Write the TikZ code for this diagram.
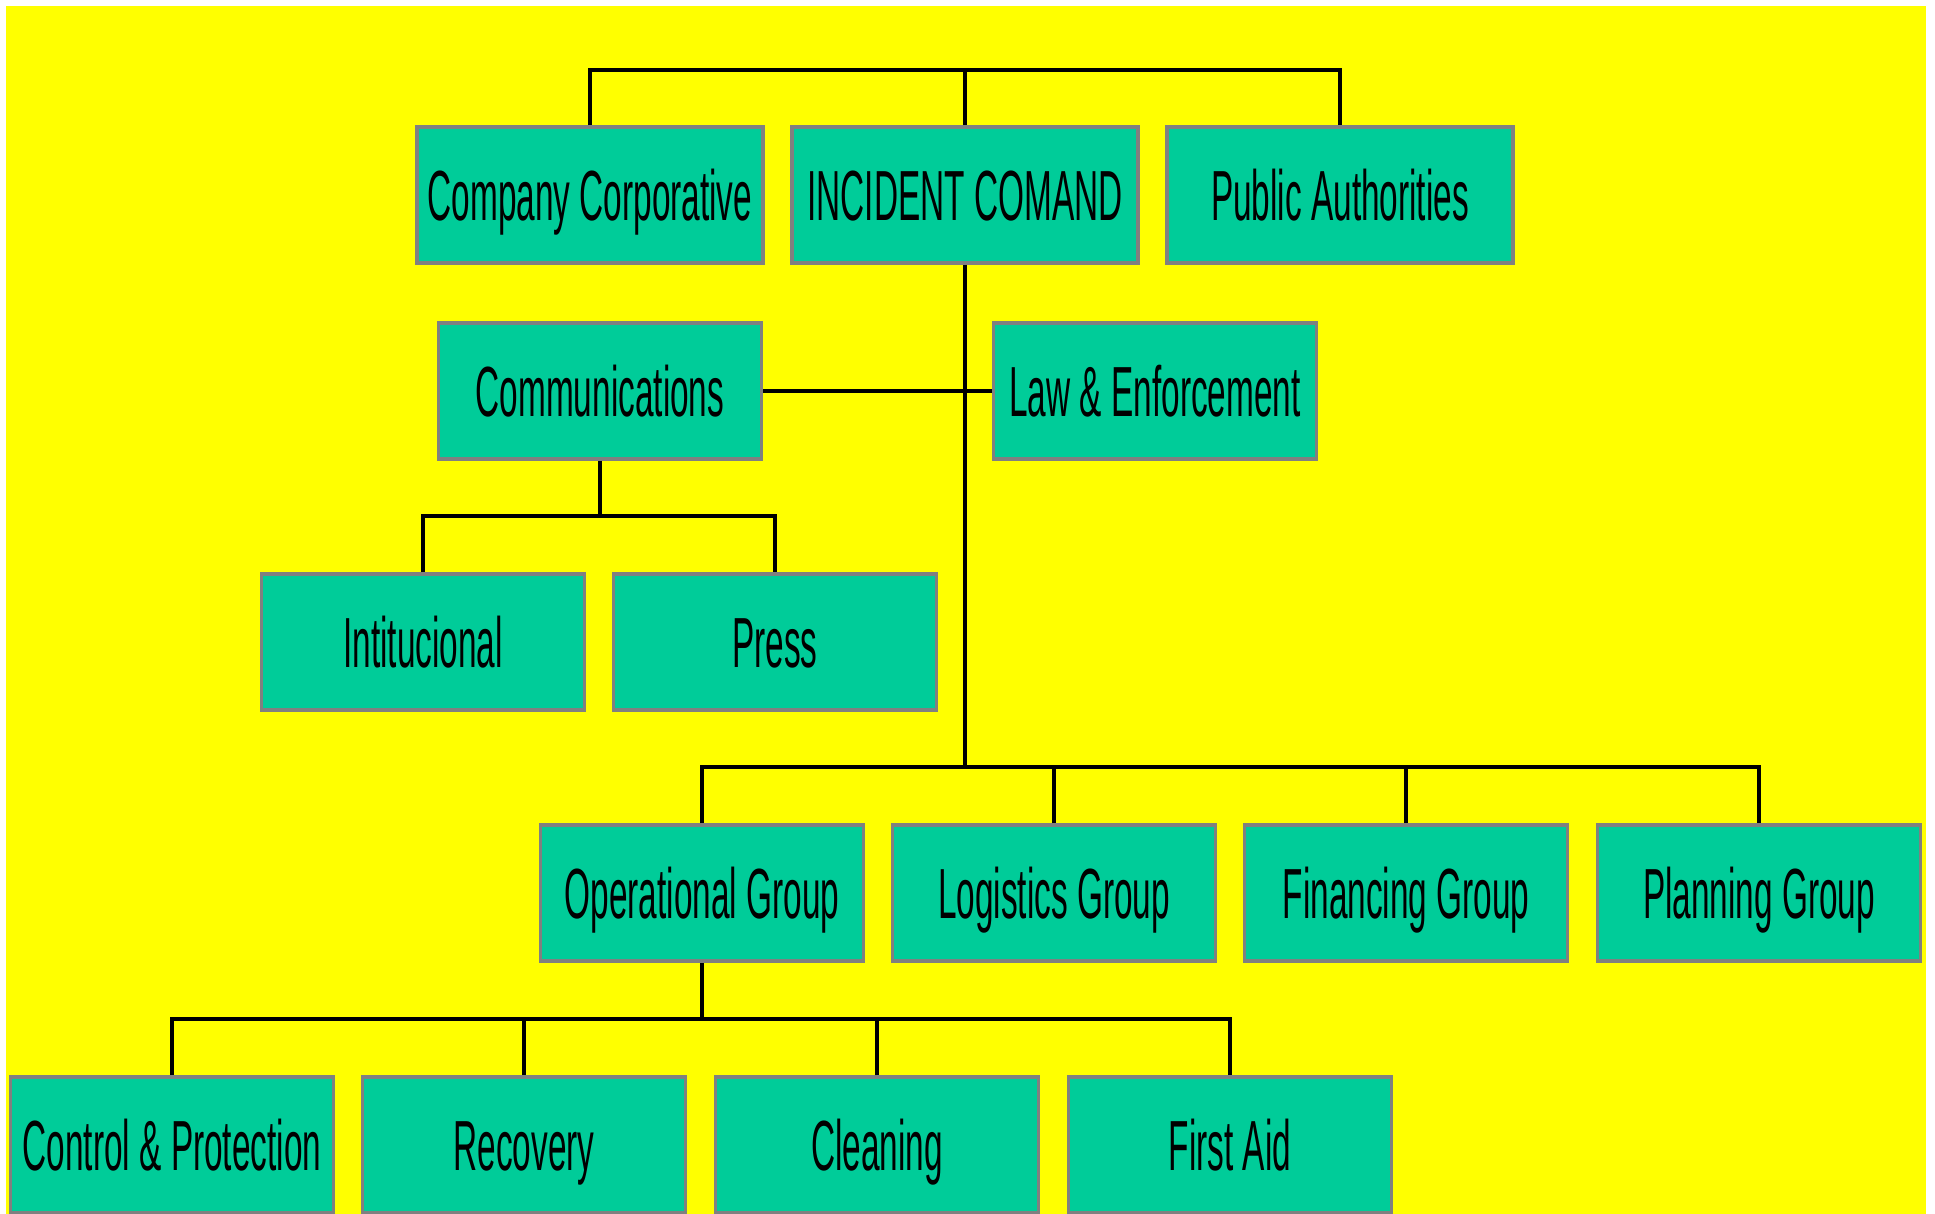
\documentclass[tikz,border=0pt]{standalone}
\usepackage{fontspec}
\setmainfont{Liberation Sans}
\newfontfamily\narrowsans[FakeStretch=0.47]{Liberation Sans}
\definecolor{boxgreen}{HTML}{00CC99}
\definecolor{boxgray}{HTML}{808080}
\definecolor{sheetyellow}{HTML}{FFFF00}

\begin{document}
\begin{tikzpicture}[x=0.5pt,y=0.5pt,
    unit/.style={draw=boxgray,fill=boxgreen,line width=1.8pt,minimum height=68pt,minimum width=161.5pt,
        inner sep=0pt,text height=26pt,text depth=0pt,font=\narrowsans\fontsize{35.5}{40}\selectfont},
    wide/.style={unit,minimum width=173pt},
    link/.style={-,line width=1.8pt}]
    \useasboundingbox (0,0) rectangle (1935,1214);
    \fill[white] (0,0) rectangle (1935,1214);
    \fill[sheetyellow] (6,0) rectangle (1926,1208);

    \coordinate (topbar)   at (965,1144);
    \coordinate (commbar)  at (600,698);
    \coordinate (groupbar) at (965,447);
    \coordinate (opbar)    at (702,195);

    \node  (cc) at (590,1019)  [wide] {Company Corporative};
    \node  (ic) at (965,1019)  [wide] {INCIDENT COMAND};
    \node  (pa) at (1340,1019) [wide] {Public Authorities};

    \node (comm) at (600,823)  [unit] {Communications};
    \node  (law) at (1155,823) [unit] {Law \& Enforcement};
    \node (inst) at (423,572)  [unit] {Intitucional};
    \node (press) at (775,572) [unit] {Press};

    \node   (op) at (702,321)  [unit] {Operational Group};
    \node  (log) at (1054,321) [unit] {Logistics Group};
    \node  (fin) at (1406,321) [unit] {Financing Group};
    \node (plan) at (1759,321) [unit] {Planning Group};

    \node  (ctrl) at (172,69)  [unit] {Control \& Protection};
    \node   (rec) at (524,69)  [unit] {Recovery};
    \node (clean) at (877,69)  [unit] {Cleaning};
    \node   (aid) at (1230,69) [unit] {First Aid};

    \draw[link] (cc.north) |- (topbar) -| (pa.north);
    \draw[link] (ic.north) to (topbar);

    \draw[link] (ic.south) to (groupbar);
    \draw[link] (comm.east) to (law.west);

    \draw[link] (comm.south) to (commbar);
    \draw[link] (inst.north) |- (commbar) -| (press.north);

    \draw[link] (op.north) |- (groupbar) -| (plan.north);
    \draw[link] (log.north) to (log.north |- groupbar);
    \draw[link] (fin.north) to (fin.north |- groupbar);

    \draw[link] (op.south) to (opbar);
    \draw[link] (ctrl.north) |- (opbar) -| (aid.north);
    \draw[link] (rec.north) to (rec.north |- opbar);
    \draw[link] (clean.north) to (clean.north |- opbar);

\end{tikzpicture}
\end{document}
